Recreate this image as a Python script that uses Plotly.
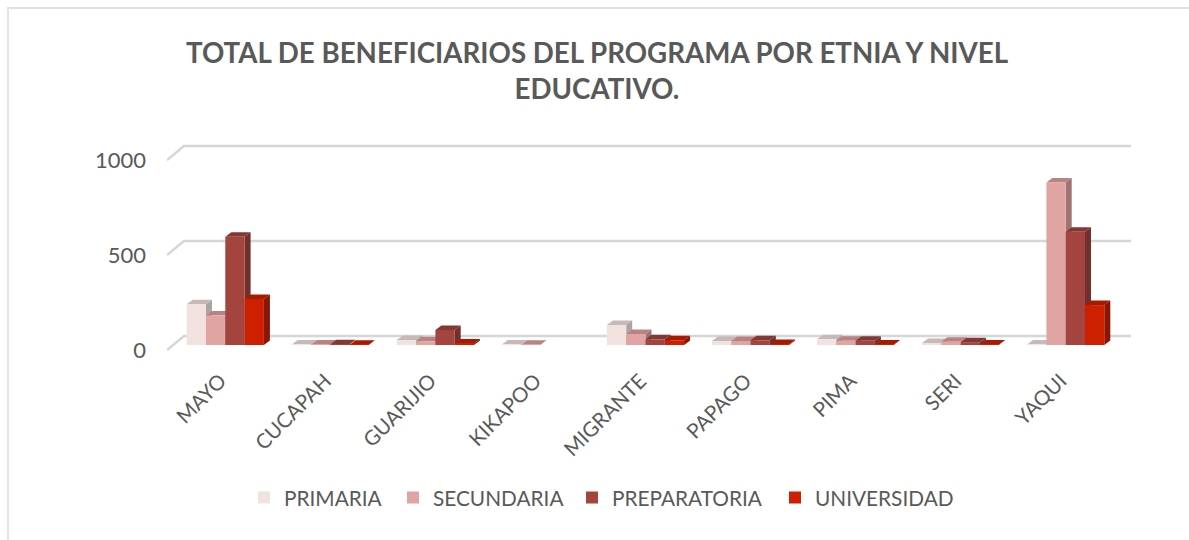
import plotly.graph_objects as go

# ---- data ----
categories = ["MAYO", "CUCAPAH", "GUARIJIO", "KIKAPOO", "MIGRANTE", "PAPAGO", "PIMA", "SERI", "YAQUI"]
primaria = [215, 2, 26, 2, 105, 21, 30, 10, 2]
secundaria = [155, 3, 20, 1, 58, 21, 22, 17, 855]
preparatoria = [570, 4, 79, None, 30, 25, 22, 15, 596]
universidad = [242, 1, 8, None, 25, 5, 2, 3, 210]
y_ticks = [0, 500, 1000]

series_names = ["PRIMARIA", "SECUNDARIA", "PREPARATORIA", "UNIVERSIDAD"]
series_values = [primaria, secundaria, preparatoria, universidad]
front_colors = ["#F2E2DF", "#E0A5A2", "#A4443F", "#CC2000"]
top_colors = ["#C6B9B7", "#B98381", "#853732", "#A81A00"]
side_colors = ["#ADA3A0", "#9D7472", "#72302C", "#8A1500"]

# ---- geometry ----
FIG_W, FIG_H = 1189, 540
L, R, T, B = 167, 1131, 140, 356
PX_PER_CAT = 105.05
PX_PER_UNIT = 0.19
CENTER0 = 225.3
x_range = [(L - CENTER0) / PX_PER_CAT, (R - CENTER0) / PX_PER_CAT]
y_zero_px = 350
y_range = [(y_zero_px - B) / PX_PER_UNIT, (y_zero_px - T) / PX_PER_UNIT]
BAR_W = 19.3 / PX_PER_CAT
GAP = 1 - 4 * BAR_W
BASE = 5 / PX_PER_UNIT
DX, DY = 6 / PX_PER_CAT, 4.5 / PX_PER_UNIT
WALL_DX, WALL_DY = 17 / PX_PER_CAT, 14 / PX_PER_UNIT
LABEL_SHIFT = 5 / PX_PER_CAT
LEGEND_PX = [244, 393, 572, 775]
LEGEND_IDS = ["legend", "legend2", "legend3", "legend4"]

GRID = "#D6D6D6"
TEXT = "#595959"
FONT = "Lato"

fig = go.Figure()

# gridlines on the back wall with a stub on the side wall
for t in y_ticks:
    fig.add_trace(go.Scatter(
        x=[x_range[0], x_range[0] + WALL_DX, x_range[1]],
        y=[t, t + WALL_DY, t + WALL_DY],
        mode="lines", line=dict(color=GRID, width=2.5),
        showlegend=False, hoverinfo="skip"))

# depth faces of the bars
for s, vals in enumerate(series_values):
    tx, ty, sx, sy = [], [], [], []
    for c, v in enumerate(vals):
        if v is None:
            continue
        x0 = c - 2 * BAR_W + s * BAR_W
        x1 = x0 + BAR_W
        y0 = BASE
        y1 = BASE + v
        tx += [x0, x1, x1 + DX, x0 + DX, x0, None]
        ty += [y1, y1, y1 + DY, y1 + DY, y1, None]
        sx += [x1, x1 + DX, x1 + DX, x1, x1, None]
        sy += [y0, y0 + DY, y1 + DY, y1, y0, None]
    fig.add_trace(go.Scatter(x=tx, y=ty, mode="lines", fill="toself", fillcolor=top_colors[s],
                             line=dict(width=0, color=top_colors[s]), showlegend=False, hoverinfo="skip"))
    fig.add_trace(go.Scatter(x=sx, y=sy, mode="lines", fill="toself", fillcolor=side_colors[s],
                             line=dict(width=0, color=side_colors[s]), showlegend=False, hoverinfo="skip"))

# front faces, on an overlaying pair of axes so that they cover the depth faces
for s, vals in enumerate(series_values):
    fig.add_trace(go.Bar(
        x=list(range(len(categories))), y=vals, base=BASE, name=series_names[s],
        marker=dict(color=front_colors[s], line=dict(width=0)),
        xaxis="x2", yaxis="y2", legend=LEGEND_IDS[s], showlegend=True))

legend_layout = {
    lid: dict(orientation="h", x=(px - L) / (R - L), xanchor="left",
              y=(B - 498) / (B - T), yanchor="middle",
              font=dict(family=FONT, size=20.8, color=TEXT), bgcolor="rgba(0,0,0,0)")
    for lid, px in zip(LEGEND_IDS, LEGEND_PX)
}

fig.update_layout(
    width=FIG_W, height=FIG_H, autosize=False,
    margin=dict(l=L, r=FIG_W - R, t=T, b=FIG_H - B),
    paper_bgcolor="white", plot_bgcolor="rgba(0,0,0,0)",
    barmode="group", bargap=GAP, bargroupgap=0,
    font=dict(family=FONT, color=TEXT),
    title=dict(
        text="<b>TOTAL DE BENEFICIARIOS DEL PROGRAMA POR ETNIA Y NIVEL<br>EDUCATIVO.</b>",
        x=597 / FIG_W, xanchor="center", xref="container",
        y=1 - 63 / FIG_H, yanchor="middle", yref="container",
        font=dict(family=FONT, size=27.7, color=TEXT)),
    xaxis=dict(range=x_range, tickvals=[i - LABEL_SHIFT for i in range(len(categories))], ticktext=categories,
               tickangle=-45, showgrid=False, zeroline=False, showline=False, ticks="",
               ticklabelstandoff=8, tickfont=dict(family=FONT, size=20.5, color=TEXT)),
    yaxis=dict(range=y_range, tickvals=y_ticks, showgrid=False, zeroline=False, showline=False,
               ticks="", ticklabelstandoff=20, tickfont=dict(family=FONT, size=22, color=TEXT)),
    xaxis2=dict(range=x_range, overlaying="x", visible=False),
    yaxis2=dict(range=y_range, overlaying="y", visible=False),
    shapes=[dict(type="rect", xref="paper", yref="paper",
                 x0=(8 - L) / (R - L), x1=(1300 - L) / (R - L),
                 y0=(B - 600) / (B - T), y1=(B - 8) / (B - T),
                 line=dict(color="#E3E3E3", width=2), fillcolor="rgba(0,0,0,0)", layer="below")],
    **legend_layout,
)

fig.write_html("out.html", config=dict(displayModeBar=False),
               post_script="document.body.style.margin='0';document.documentElement.style.overflow='hidden';")
